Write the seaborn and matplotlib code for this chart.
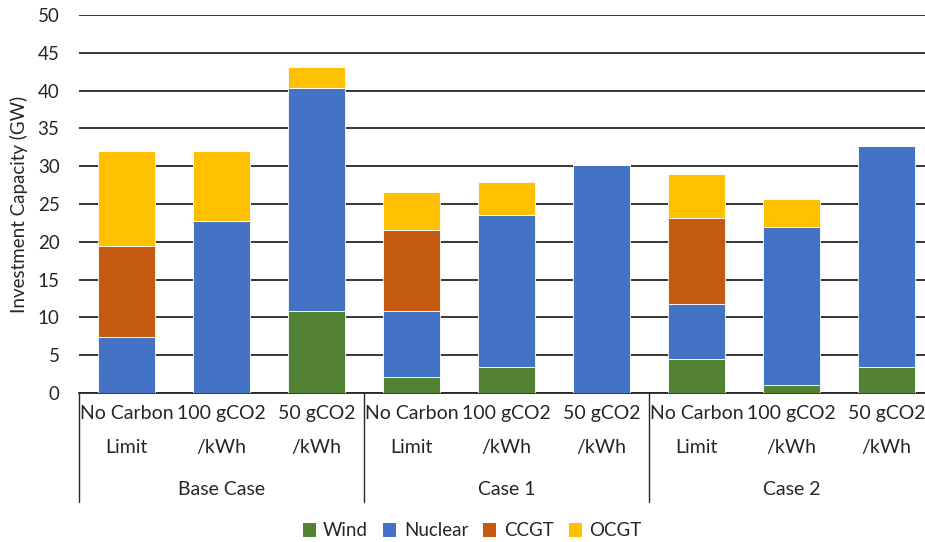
import matplotlib
matplotlib.use("Agg")
import matplotlib.pyplot as plt
import seaborn as sns
import numpy as np
import pandas as pd
from matplotlib.patches import Patch

# Scenario layout
groups = ["Base Case", "Case 1", "Case 2"]
scenarios = ["No Carbon\nLimit", "100 gCO2\n/kWh", "50 gCO2\n/kWh"]

# Installed investment capacity (GW) per technology, Base/Case1/Case2 x scenario
wind = [0.0, 0.0, 10.9, 2.1, 3.4, 0.0, 4.5, 1.0, 3.4]
nuclear = [7.4, 22.7, 29.5, 8.8, 20.1, 30.2, 7.3, 20.9, 29.3]
ccgt = [12.0, 0.0, 0.0, 10.7, 0.0, 0.0, 11.4, 0.0, 0.0]
ocgt = [12.6, 9.3, 2.7, 5.0, 4.4, 0.0, 5.8, 3.7, 0.0]

series = [("Wind", wind, "#548235"),
          ("Nuclear", nuclear, "#4472C4"),
          ("CCGT", ccgt, "#C55A11"),
          ("OCGT", ocgt, "#FFC000")]

ids = [f"{g}|{s}" for g in groups for s in scenarios]

sns.set_theme(style="white")
plt.rcParams["font.family"] = ["Lato", "DejaVu Sans"]

fig = plt.figure(figsize=(9.25, 5.42), dpi=100)
W, H = 925, 542
ax = fig.add_axes([79 / W, (H - 393) / H, (W - 79) / W, 378 / H])

bottom = np.zeros(len(ids))
for name, vals, col in series:
    df = pd.DataFrame({"id": ids, "val": vals})
    sns.barplot(data=df, x="id", y="val", order=ids, color=col, width=0.6,
                bottom=bottom.copy(), edgecolor="white", linewidth=0.6,
                saturation=1, ax=ax, zorder=3)
    bottom += np.array(vals)

FS = 14
ax.set_ylim(0, 50)
ax.set_xlim(-0.5, -0.5 + (W - 79) / 95)
ax.set_yticks(range(0, 51, 5))
ax.tick_params(axis="y", length=0, pad=14, labelsize=13.5, colors="#262626")
ax.grid(axis="y", color="#262626", linewidth=1.3, zorder=0)
ax.set_axisbelow(True)
ax.set_xticks([])
ax.set_xlabel("")
ax.set_ylabel("Investment Capacity (GW)", fontsize=13.5, color="#262626", labelpad=7)
for s in ["left", "right", "top"]:
    ax.spines[s].set_visible(False)
ax.spines["bottom"].set_color("#262626")
ax.spines["bottom"].set_linewidth(1.3)

tr = ax.get_xaxis_transform()
for i, sid in enumerate(ids):
    scen = sid.split("|")[1]
    l1, l2 = scen.split("\n")
    ax.text(i, -0.053, l1, transform=tr, ha="center", va="center",
            fontsize=FS, color="#262626", clip_on=False)
    ax.text(i, -0.143, l2, transform=tr, ha="center", va="center",
            fontsize=FS, color="#262626", clip_on=False)
for gi, g in enumerate(groups):
    ax.text(gi * 3 + 1, -0.254, g, transform=tr, ha="center", va="center",
            fontsize=FS, color="#262626", clip_on=False)
for xb in [-0.5, 2.5, 5.5, 8.5]:
    ax.plot([xb, xb], [0, -0.288], transform=tr, color="#262626",
            linewidth=1.0, clip_on=False)

handles = [Patch(facecolor=c, edgecolor="none", label=n) for n, _, c in series]
fig.legend(handles=handles, loc="center", bbox_to_anchor=(472 / W, (H - 531) / H),
           ncol=4, frameon=False, fontsize=13.5, handlelength=0.7, handleheight=0.75,
           handletextpad=0.4, columnspacing=0.8, labelcolor="#262626")

fig.savefig("out.png", dpi=100)
